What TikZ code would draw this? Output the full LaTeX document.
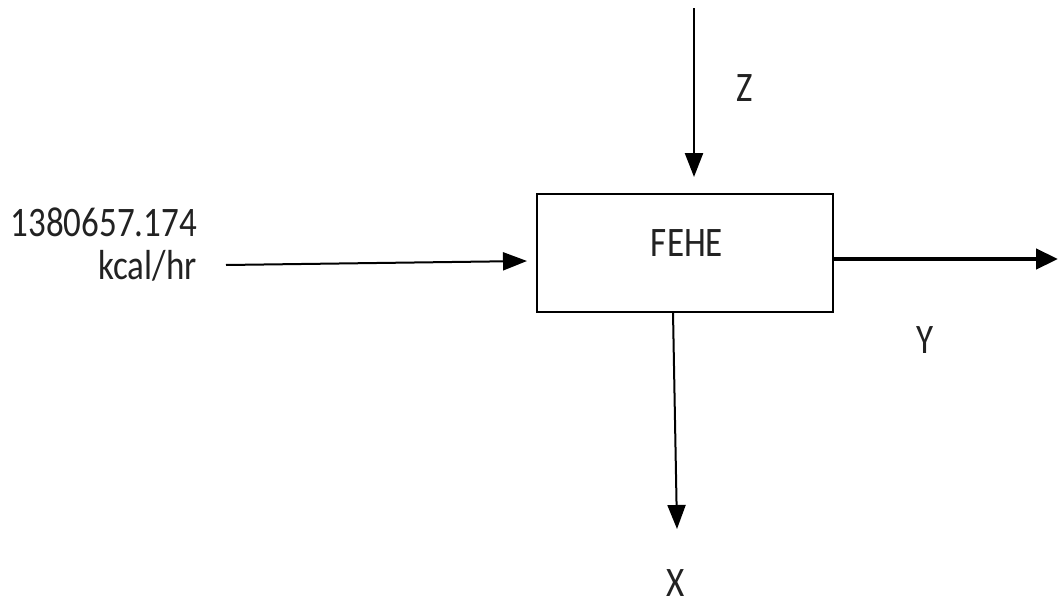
\documentclass[tikz,border=0pt]{standalone}
\usepackage{fontspec}
\setmainfont{Carlito}
\usetikzlibrary{arrows.meta}
\definecolor{ink}{HTML}{222222}
\newcommand{\tallfont}[1]{\scalebox{1}[1.2]{#1}}
\tikzset{
  lbl/.style={inner sep=0pt, text=ink, font=\fontsize{35}{40}\selectfont},
  unit/.style={draw=black, line width=2pt, minimum width=296pt, minimum height=118pt, inner sep=0pt},
  flow/.style={draw=black, line width=2.4pt, -{Triangle[length=24pt,width=18pt]}},
}
\begin{document}
\begin{tikzpicture}[x=1pt,y=-1pt]
\useasboundingbox (0,0) rectangle (1058,605);
% process unit
\node[unit] (fehe) at (685,253) {};
\node[lbl] (fehet) at (687,243) {\tallfont{FEHE}};
% stream end points
\coordinate (zin) at (694,8);
\coordinate (zend) at (694,177);
\coordinate (qin) at (226,265);
\coordinate (qend) at (527,261);
\coordinate (yend) at (1058,259);
\coordinate (xstart) at (673,312);
\coordinate (xend) at (677,529);
% streams
\draw[flow] (zin) -- (zend);
\draw[flow, line width=2pt] (qin) -- (qend);
\draw[flow, line width=4.5pt, -{Triangle[length=22pt,width=20pt]}] (fehe.east |- yend) -- (yend);
\draw[flow, line width=2pt] (xstart) -- (xend);
% labels
\node[lbl] (zl) at (745,88) {\tallfont{Z}};
\node[lbl] (yl) at (925,340) {\tallfont{Y}};
\node[lbl] (xl) at (676,583) {\tallfont{X}};
\node[lbl, anchor=east] (ql1) at (197,222) {\tallfont{1380657.174}};
\node[lbl, anchor=east] (ql2) at (197,266) {\tallfont{kcal/hr}};
\end{tikzpicture}
\end{document}
